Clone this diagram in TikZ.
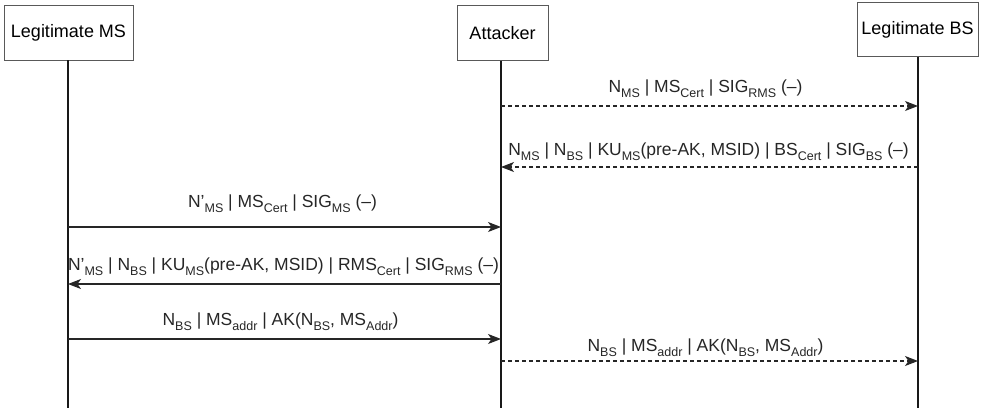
\documentclass[tikz,border=0pt]{standalone}
\usepackage{fontspec}
\setmainfont{Liberation Sans}
\usetikzlibrary{arrows.meta}
% lowered subscript in a reduced size
\newcommand\lo[1]{\raisebox{-0.3em}{\fontsize{12.5}{13}\selectfont #1}}
\begin{document}
\begin{tikzpicture}[x=1pt,y=-1pt,
  actor/.style={draw=black!65,line width=0.9pt,rectangle,inner sep=0pt,font=\fontsize{18}{21}\selectfont},
  life/.style={line width=1.4pt,black!90},
  msg/.style={line width=1.1pt,black!85,-{Stealth[length=13pt,width=10pt,inset=3.5pt]}},
  fake/.style={msg,dash pattern=on 4pt off 3pt},
  lbl/.style={font=\fontsize{17.5}{20}\selectfont,inner sep=0pt,anchor=base}]
\useasboundingbox (0,0) rectangle (982,410);

% participants
\node[actor,minimum width=129,minimum height=55] (ms) at (68.5,32.5) {Legitimate MS};
\node[actor,minimum width=91,minimum height=55] (att) at (502.5,33) {Attacker};
\node[actor,minimum width=121,minimum height=54] (bs) at (917.5,29.5) {Legitimate BS};

% lifelines
\coordinate (msend) at (68,408);
\coordinate (attend) at (501,408);
\coordinate (bsend) at (918,408);
\draw[life] (ms.south) ++(-0.5,0) -- (msend);
\draw[life] (att.south) ++(-1.5,0) -- (attend);
\draw[life] (bs.south) ++(0.5,0) -- (bsend);

% anchor points on the lifelines
\foreach \n/\y in {1/106,2/167,3/227,4/284,5/339,6/361}{
  \coordinate (m\n) at (68,\y);
  \coordinate (a\n) at (501,\y);
  \coordinate (b\n) at (918,\y);
}

% messages
\draw[fake] (a1) -- (b1) node[lbl,midway,xshift=-4pt,yshift=14pt] (t1)
  {N\lo{MS} | MS\lo{Cert} | SIG\lo{RMS} (–)};
\draw[fake] (b2) -- (a2) node[lbl,midway,xshift=-1pt,yshift=12pt] (t2)
  {N\lo{MS} | N\lo{BS} | KU\lo{MS}(pre-AK, MSID) | BS\lo{Cert} | SIG\lo{BS} (–)};
\draw[msg] (m3) -- (a3) node[lbl,midway,xshift=-2pt,yshift=20pt] (t3)
  {N’\lo{MS} | MS\lo{Cert} | SIG\lo{MS} (–)};
\draw[msg] (a4) -- (m4) node[lbl,midway,xshift=-1pt,yshift=14pt] (t4)
  {N’\lo{MS} | N\lo{BS} | KU\lo{MS}(pre-AK, MSID) | RMS\lo{Cert} | SIG\lo{RMS} (–)};
\draw[msg] (m5) -- (a5) node[lbl,midway,xshift=-4pt,yshift=14pt] (t5)
  {N\lo{BS} | MS\lo{addr} | AK(N\lo{BS}, MS\lo{Addr})};
\draw[fake] (a6) -- (b6) node[lbl,midway,xshift=-4pt,yshift=10pt] (t6)
  {N\lo{BS} | MS\lo{addr} | AK(N\lo{BS}, MS\lo{Addr})};
\end{tikzpicture}
\end{document}
